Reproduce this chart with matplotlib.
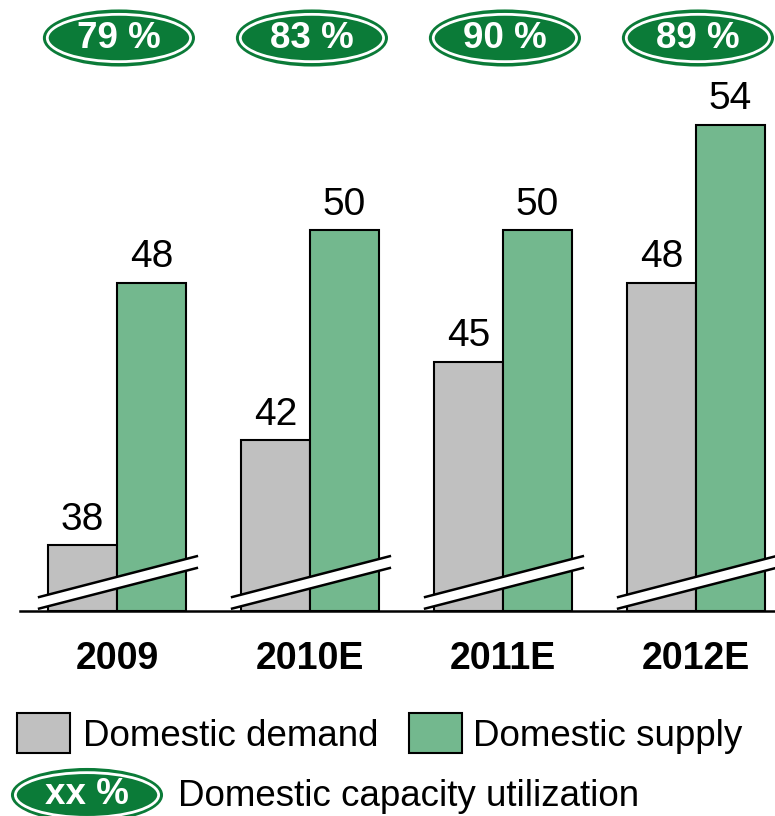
import numpy as np
import matplotlib.pyplot as plt
from matplotlib.patches import Ellipse, Rectangle, Polygon
from matplotlib.transforms import blended_transform_factory

plt.rcParams['font.family'] = ['Liberation Sans', 'DejaVu Sans']

years = ['2009', '2010E', '2011E', '2012E']
demand = [38, 42, 45, 48]
supply = [48, 50, 50, 54]
utilization = ['79 %', '83 %', '90 %', '89 %']

gray = '#c0c0c0'
green = '#73b88e'
dark_green = '#0b7b38'

fig = plt.figure(figsize=(7.75, 8.16), dpi=100)
# axes: baseline at y=611 px, top at y=70 px
ax = fig.add_axes([0, (816 - 611) / 816, 1, (611 - 70) / 816])
ax.set_xlim(-117 / 193, (775 - 117) / 193)
y0 = 35.5
ax.set_ylim(y0, y0 + (611 - 70) / 26.25)
ax.axis('off')

x = np.arange(len(years))
w = 0.358
ax.bar(x - w / 2, np.array(demand) - y0, w, bottom=y0, color=gray,
       edgecolor='black', linewidth=1.5, zorder=2)
ax.bar(x + w / 2, np.array(supply) - y0, w, bottom=y0, color=green,
       edgecolor='black', linewidth=1.5, zorder=2)

for i in range(len(years)):
    ax.text(x[i] - w / 2, demand[i] + 0.3, str(demand[i]), ha='center', va='bottom', fontsize=28)
    ax.text(x[i] + w / 2, supply[i] + 0.3, str(supply[i]), ha='center', va='bottom', fontsize=28)

    # axis break marks
    xa, xb = x[i] - 0.41, x[i] + 0.42
    lo = [y0 + 0.08, y0 + 1.65]
    hi = [y0 + 0.52, y0 + 2.1]
    ax.add_patch(Polygon([[xa, lo[0]], [xb, lo[1]], [xb, hi[1]], [xa, hi[0]]],
                         closed=True, facecolor='white', edgecolor='none', zorder=3))
    ax.plot([xa, xb], lo, color='black', lw=1.8, zorder=4, solid_capstyle='butt')
    ax.plot([xa, xb], hi, color='black', lw=1.8, zorder=4, solid_capstyle='butt')

ax.plot([20 / 193 - 117 / 193, 4], [y0, y0], color='black', lw=1.8, zorder=5, clip_on=False)

trans = blended_transform_factory(ax.transData, fig.transFigure)


def oval(xc, yc, tr, wd, ht, label):
    fig.patches.append(Ellipse((xc, yc), wd, ht, transform=tr, facecolor=dark_green,
                               edgecolor=dark_green, lw=1.5))
    fig.patches.append(Ellipse((xc, yc), wd * 0.955, ht * 0.86, transform=tr, facecolor='none',
                               edgecolor='white', lw=2))
    fig.text(xc, yc, label, transform=tr, ha='center', va='center', fontsize=26.5,
             fontweight='bold', color='white')


for i in range(len(years)):
    oval(x[i] + 0.01, 1 - 38 / 816, trans, 150 / 193, 55 / 816, utilization[i])
    fig.text(x[i], 1 - 659 / 816, years[i], transform=trans, ha='center', va='center',
             fontsize=27, fontweight='bold')

# legend
fig.patches.append(Rectangle((17 / 775, 1 - 753 / 816), 53 / 775, 40 / 816,
                             transform=fig.transFigure, facecolor=gray, edgecolor='black', lw=1.5))
fig.text(83 / 775, 1 - 737 / 816, 'Domestic demand', ha='left', va='center', fontsize=26.5)
fig.patches.append(Rectangle((409 / 775, 1 - 753 / 816), 53 / 775, 40 / 816,
                             transform=fig.transFigure, facecolor=green, edgecolor='black', lw=1.5))
fig.text(473 / 775, 1 - 737 / 816, 'Domestic supply', ha='left', va='center', fontsize=26.5)
oval(87 / 775, 1 - 795 / 816, fig.transFigure, 150 / 775, 52 / 816, 'xx %')
fig.text(178 / 775, 1 - 797 / 816, 'Domestic capacity utilization', ha='left', va='center', fontsize=26.5)

fig.savefig('out.png', dpi=100)
